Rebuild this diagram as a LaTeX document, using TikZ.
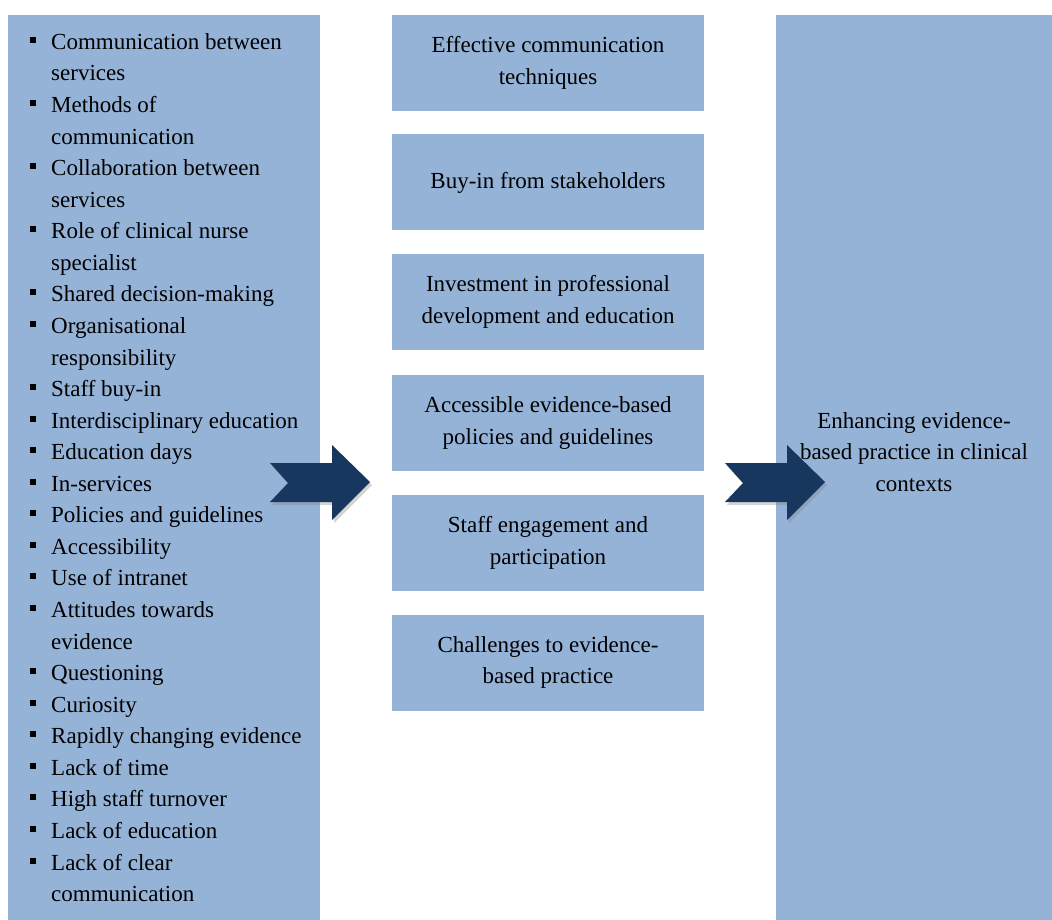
\documentclass[tikz,border=0pt]{standalone}
\usepackage{fontspec}
\setmainfont{Liberation Serif}
\usetikzlibrary{shadows}
\definecolor{boxblue}{HTML}{95B3D7}
\definecolor{arrownavy}{HTML}{17375E}
\tikzset{
    colbox/.style = {fill = boxblue, draw = none, inner sep = 0pt},
    stagebox/.style = {colbox, minimum width = 312pt, minimum height = 96pt,
        align = center, font = \fontsize{23}{31.5}\selectfont},
    itemtext/.style = {anchor = base west, inner sep = 0pt,
        font = \fontsize{23}{31.5}\selectfont},
    chevron/.style = {fill = arrownavy,
        drop shadow = {opacity = 0.35, shadow xshift = 2pt, shadow yshift = -3pt}},
}
\begin{document}
\begin{tikzpicture}[x = 1pt, y = -1pt]
                \useasboundingbox (0, 0) rectangle (1052, 920);
                \node [colbox, minimum width = 312pt, minimum height = 905pt] 
                    (themes) at (164, 467.5) {};
                \node [colbox, minimum width = 276pt, minimum height = 905pt] 
                    (outcome) at (914, 467.5) {};
                \foreach \txt/\bul [count = \i from 0] in {
                    Communication between/1, services/0, Methods of/1, communication/0,
                    Collaboration between/1, services/0, Role of clinical nurse/1, specialist/0,
                    Shared decision-making/1, Organisational/1, responsibility/0,
                    Staff buy-in/1, Interdisciplinary education/1, Education days/1,
                    In-services/1, Policies and guidelines/1, Accessibility/1,
                    Use of intranet/1, Attitudes towards/1, evidence/0, Questioning/1,
                    Curiosity/1, Rapidly changing evidence/1, Lack of time/1,
                    High staff turnover/1, Lack of education/1, Lack of clear/1,
                    communication/0}
                {
                    \node [itemtext] (line\i) at (51, {49.3 + 31.57*\i}) {\txt};
                    \ifnum\bul=1
                        \fill (30, {36.7 + 31.57*\i}) rectangle ++(6, 6);
                    \fi
                }
                \node [stagebox] (stage1) at (548, 63) {Effective communication\\techniques};
                \node [stagebox] (stage2) at (548, 182.5) {Buy-in from stakeholders};
                \node [stagebox] (stage3) at (548, 302) {Investment in professional\\development and education};
                \node [stagebox] (stage4) at (548, 423) {Accessible evidence-based\\policies and guidelines};
                \node [stagebox] (stage5) at (548, 543) {Staff engagement and\\participation};
                \node [stagebox] (stage6) at (548, 662.5) {Challenges to evidence-\\based practice};
                \node [align = center, inner sep = 0pt, font = \fontsize{23}{31.5}\selectfont] 
                    (outcometext) at (914, 452) 
                    {Enhancing evidence-\\based practice in clinical\\contexts};
                \foreach \ax in {270, 725}
                {
                    \fill [chevron] 
                        (\ax, 463) -- ++(62, 0) -- ++(0, -18) -- ++(38, 37) 
                        -- ++(-38, 38) -- ++(0, -18) -- ++(-62, 0) -- ++(18, -19) -- cycle
                    ;
                }
            \end{tikzpicture}
\end{document}
